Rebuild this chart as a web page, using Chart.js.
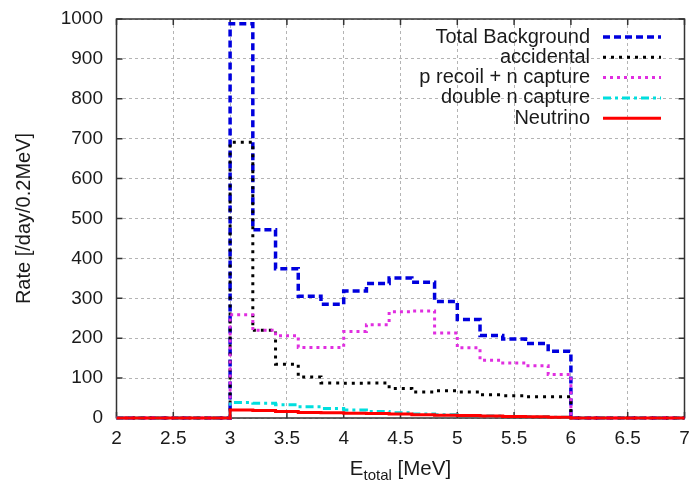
<!DOCTYPE html>
<html>
<head>
<meta charset="utf-8">
<script src="https://cdn.jsdelivr.net/npm/chart.js@4/dist/chart.umd.min.js"></script>
<style>
  body { margin: 0; background: #fff; }
  #wrap { width: 693px; height: 483px; }
</style>
</head>
<body>
<div id="wrap"><canvas id="bg-chart"></canvas></div>
<script>
// bin edges [MeV]; each value holds from its edge to the next one
const edges = [2, 3, 3.2, 3.4, 3.6, 3.8, 4, 4.2, 4.4, 4.6, 4.8, 5, 5.2, 5.4, 5.6, 5.8, 6, 7];

const totalBg    = [0, 988, 472, 374, 305, 285, 318, 337, 351, 340, 292, 247, 207, 198, 187, 167, 0, 0];
const accidental = [0, 691, 220, 135, 103, 88, 87, 88, 74, 65, 68, 65, 58, 56, 53, 53, 0, 0];
const pRecoil    = [0, 259, 220, 206, 177, 177, 217, 234, 266, 268, 213, 176, 145, 138, 131, 109, 0, 0];
const doubleN    = [0, 39, 37, 33, 28, 24, 20, 16, 13, 10, 8, 6, 5, 4, 3, 2, 0, 0];
const neutrino   = [0, 20, 19, 16, 14, 13, 12, 11, 10, 8, 7, 6, 5, 4, 3, 2, 0, 0];

const xTicks = [2, 2.5, 3, 3.5, 4, 4.5, 5, 5.5, 6, 6.5, 7];
const yTicks = [0, 100, 200, 300, 400, 500, 600, 700, 800, 900, 1000];

const FONT = '"Liberation Sans", Arial, sans-serif';

function toPoints(values) {
    return edges.map((x, i) => ({ x: x, y: values[i] }));
}

function series(label, values, color, dash, width, order) {
    return {
        label: label,
        data: toPoints(values),
        borderColor: color,
        backgroundColor: color,
        borderDash: dash,
        borderWidth: width,
        borderCapStyle: 'butt',
        stepped: true,
        pointRadius: 0,
        fill: false,
        clip: 5,
        order: order
    };
}

// box, inward ticks, axis titles and the gnuplot style legend
const framePlugin = {
    id: 'frame',
    beforeDatasetsDraw(chart) {
        const { ctx, chartArea: a, scales } = chart;
        ctx.save();
        ctx.strokeStyle = '#333';
        ctx.lineWidth = 1.5;
        ctx.setLineDash([]);
        ctx.strokeRect(a.left, a.top, a.right - a.left, a.bottom - a.top);
        ctx.beginPath();
        yTicks.forEach(v => {
            const y = scales.y.getPixelForValue(v);
            ctx.moveTo(a.left, y); ctx.lineTo(a.left + 6, y);
            ctx.moveTo(a.right, y); ctx.lineTo(a.right - 6, y);
        });
        xTicks.forEach(v => {
            const x = scales.x.getPixelForValue(v);
            ctx.moveTo(x, a.bottom); ctx.lineTo(x, a.bottom - 6);
            ctx.moveTo(x, a.top); ctx.lineTo(x, a.top + 6);
        });
        ctx.stroke();
        ctx.restore();
    },
    afterDraw(chart) {
        const { ctx, chartArea: a } = chart;
        ctx.save();
        ctx.fillStyle = '#1a1a1a';

        // y title
        ctx.font = '20px ' + FONT;
        ctx.textAlign = 'center';
        ctx.textBaseline = 'middle';
        ctx.translate(24, (a.top + a.bottom) / 2);
        ctx.rotate(-Math.PI / 2);
        ctx.fillText('Rate [/day/0.2MeV]', 0, 0);
        ctx.setTransform(1, 0, 0, 1, 0, 0);

        // x title with subscript
        ctx.textAlign = 'left';
        ctx.textBaseline = 'alphabetic';
        ctx.font = '20.5px ' + FONT;
        const wE = ctx.measureText('E').width;
        const wRest = ctx.measureText(' [MeV]').width;
        ctx.font = '15px ' + FONT;
        const wSub = ctx.measureText('total').width;
        let x = (a.left + a.right) / 2 - (wE + wSub + wRest) / 2;
        const base = 475;
        ctx.font = '20.5px ' + FONT;
        ctx.fillText('E', x, base);
        ctx.font = '15px ' + FONT;
        ctx.fillText('total', x + wE, base + 5);
        ctx.font = '20.5px ' + FONT;
        ctx.fillText(' [MeV]', x + wE + wSub, base);

        // legend
        ctx.font = '20px ' + FONT;
        ctx.textAlign = 'right';
        ctx.textBaseline = 'middle';
        chart.data.datasets.forEach((ds, i) => {
            const y = 37 + i * 20.3;
            ctx.fillStyle = '#1a1a1a';
            ctx.fillText(ds.label, 590, y);
            ctx.beginPath();
            ctx.strokeStyle = ds.borderColor;
            ctx.lineWidth = ds.borderWidth;
            ctx.lineCap = 'butt';
            ctx.setLineDash(ds.borderDash);
            ctx.moveTo(603, y);
            ctx.lineTo(661, y);
            ctx.stroke();
        });
        ctx.restore();
    }
};

const canvas = document.querySelector('#bg-chart');

new Chart(canvas.getContext('2d'), {
    type: 'line',
    data: {
        datasets: [
            series('Total Background', totalBg, '#0000dd', [7, 4], 3.5, 5),
            series('accidental', accidental, '#000000', [3, 5], 3, 4),
            series('p recoil + n capture', pRecoil, '#e02ee0', [3, 4], 3, 3),
            series('double n capture', doubleN, '#00dede', [8, 4, 3, 4], 3, 2),
            series('Neutrino', neutrino, '#ff0000', [], 3, 1)
        ]
    },
    options: {
        responsive: true,
        maintainAspectRatio: false,
        animation: false,
        layout: { padding: { left: 0, top: 19, right: 8.5, bottom: 0 } },
        plugins: {
            legend: { display: false },
            tooltip: { enabled: false }
        },
        scales: {
            x: {
                type: 'linear',
                min: 2,
                max: 7,
                afterFit(scale) {
                    scale.height = 65;
                    scale.paddingLeft = 0;
                    scale.paddingRight = 0;
                },
                afterBuildTicks(scale) { scale.ticks = xTicks.map(v => ({ value: v })); },
                ticks: {
                    callback: v => String(v),
                    color: '#1a1a1a',
                    font: { family: FONT, size: 19 },
                    padding: 9,
                    maxRotation: 0
                },
                grid: { color: '#b4b4b4', lineWidth: 1, drawTicks: false },
                border: { display: false, dash: [3, 3] }
            },
            y: {
                min: 0,
                max: 1000,
                afterFit(scale) {
                    scale.width = 116.5;
                    scale.paddingTop = 0;
                    scale.paddingBottom = 0;
                },
                afterBuildTicks(scale) { scale.ticks = yTicks.map(v => ({ value: v })); },
                ticks: {
                    callback: v => String(v),
                    color: '#1a1a1a',
                    font: { family: FONT, size: 19 },
                    padding: 13.5
                },
                grid: { color: '#b4b4b4', lineWidth: 1, drawTicks: false },
                border: { display: false, dash: [3, 3] }
            }
        }
    },
    plugins: [framePlugin]
});
</script>
</body>
</html>
